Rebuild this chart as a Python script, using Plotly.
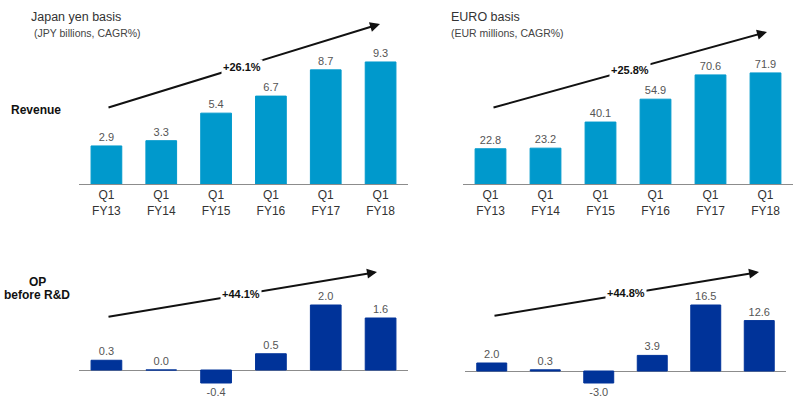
import plotly.graph_objects as go

W, H = 793, 407

categories = ["Q1<br>FY13", "Q1<br>FY14", "Q1<br>FY15", "Q1<br>FY16", "Q1<br>FY17", "Q1<br>FY18"]
rev_jpy = [2.9, 3.3, 5.4, 6.7, 8.7, 9.3]
rev_eur = [22.8, 23.2, 40.1, 54.9, 70.6, 71.9]
op_jpy = [0.3, 0.0, -0.4, 0.5, 2.0, 1.6]
op_eur = [2.0, 0.3, -3.0, 3.9, 16.5, 12.6]
cagr_labels = ["+26.1%", "+25.8%", "+44.1%", "+44.8%"]

REV_COLOR = "#0099CC"
OP_COLOR = "#003399"
FONT = "Liberation Sans, Arial, sans-serif"

def px_x(p):
    return p / W

def px_y(p):
    return 1 - p / H

fig = go.Figure()

panels = [
    (rev_jpy, REV_COLOR, "x", "y", (79, 408), (40, 184), [0, 144 / 13.12], True),
    (rev_eur, REV_COLOR, "x2", "y2", (463, 793), (40, 184), [0, 144 / 1.545], True),
    (op_jpy, OP_COLOR, "x3", "y3", (79, 408), (250, 395), [-25 / 32.5, 120 / 32.5], False),
    (op_eur, OP_COLOR, "x4", "y4", (465, 786), (250, 395), [-24 / 4.0, 121 / 4.0], False),
]

layout_axes = {}
for i, (vals, col, xa, ya, xd, yd, yr, showt) in enumerate(panels):
    fig.add_trace(go.Bar(
        x=categories, y=vals, xaxis=xa, yaxis=ya,
        marker=dict(color=col, line=dict(width=1, color=col)),
        text=[f"{v:.1f}" for v in vals], textposition="outside",
        textfont=dict(size=11, color="#555555", family=FONT),
        cliponaxis=False, showlegend=False,
    ))
    xname = "xaxis" if xa == "x" else "xaxis" + xa[1:]
    yname = "yaxis" if ya == "y" else "yaxis" + ya[1:]
    layout_axes[xname] = dict(
        domain=[px_x(xd[0]), px_x(xd[1])], anchor=ya,
        showticklabels=showt, showgrid=False, showline=False, zeroline=False,
        ticks="", tickfont=dict(size=12, color="#333333", family=FONT),
        ticklabelstandoff=2,
        fixedrange=True,
    )
    layout_axes[yname] = dict(
        domain=[px_y(yd[1]), px_y(yd[0])], anchor=xa, range=yr,
        showticklabels=False, showgrid=False, showline=False,
        zeroline=True, zerolinecolor="#8c8c8c", zerolinewidth=1.2,
        fixedrange=True,
    )

fig.update_layout(**layout_axes)

ann = []
arrows = [
    ((380, 24), (-273, 84), (242, 67)),
    ((767, 32), (-275, 76), (630, 70)),
    ((377, 272), (-270, 45), (241, 294)),
    ((759, 272), (-266, 44), (626, 293)),
]
for (head, off, lab), txt in zip(arrows, cagr_labels):
    ann.append(dict(
        x=px_x(head[0]), y=px_y(head[1]), xref="paper", yref="paper",
        ax=off[0], ay=off[1], axref="pixel", ayref="pixel",
        text="", showarrow=True, arrowhead=2, arrowsize=1, arrowwidth=2,
        arrowcolor="#111111",
    ))
    ann.append(dict(
        x=px_x(lab[0]), y=px_y(lab[1]), xref="paper", yref="paper",
        text=f"<b>{txt}</b>", showarrow=False, bgcolor="white",
        font=dict(size=11, color="#111111", family=FONT),
        xanchor="center", yanchor="middle", borderpad=1,
    ))

texts = [
    ("Japan yen basis", 30, 17, 12.5, "#333333", "left"),
    ("(JPY billions, CAGR%)", 33, 33, 10.5, "#444444", "left"),
    ("EURO basis", 450, 17, 12.5, "#333333", "left"),
    ("(EUR millions, CAGR%)", 450, 33, 10.5, "#444444", "left"),
    ("<b>Revenue</b>", 10, 110, 12, "#111111", "left"),
    ("<b>OP</b>", 37, 282, 12, "#111111", "center"),
    ("<b>before R&D</b>", 37, 295, 12, "#111111", "center"),
]
for t, x, y, s, c, xa in texts:
    ann.append(dict(
        x=px_x(x), y=px_y(y), xref="paper", yref="paper", text=t,
        showarrow=False, xanchor=xa, yanchor="middle",
        font=dict(size=s, color=c, family=FONT), borderpad=0,
    ))

fig.update_layout(
    width=W, height=H, margin=dict(l=0, r=0, t=0, b=0),
    paper_bgcolor="white", plot_bgcolor="white",
    bargap=0.44, annotations=ann, font=dict(family=FONT),
)

fig.write_html("out.html", config={"displayModeBar": False},
               post_script="document.body.style.margin='0px';document.body.style.overflow='hidden';")
